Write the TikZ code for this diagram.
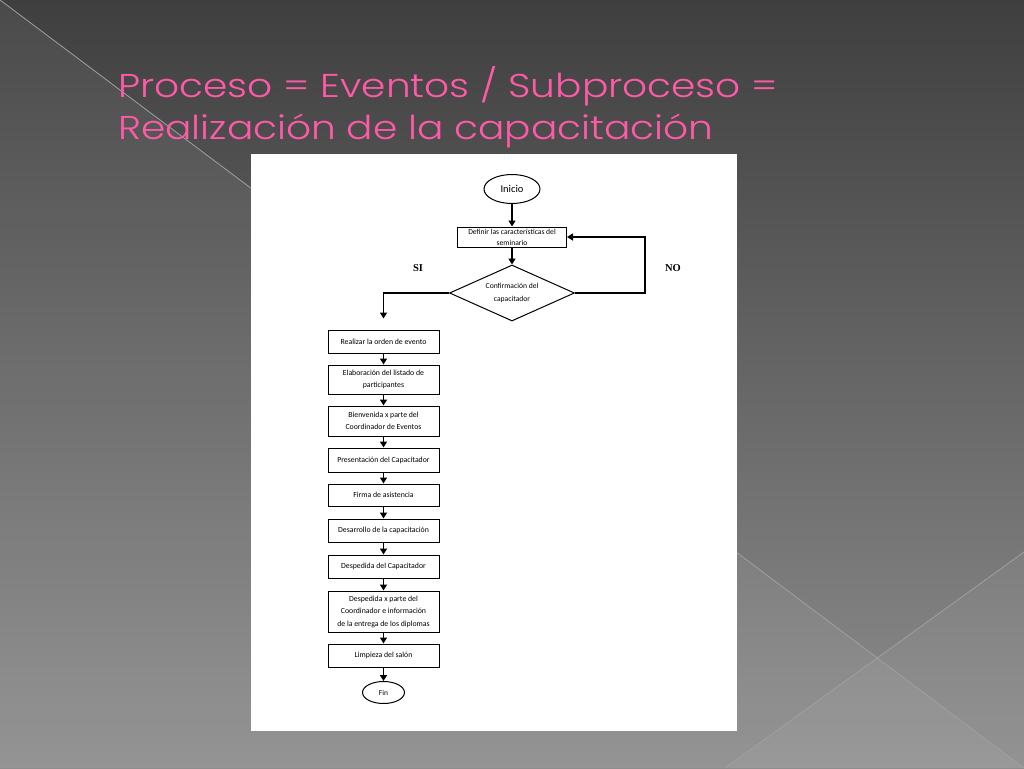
\documentclass[tikz,border=0pt]{standalone}
\usepackage{fontspec}
\setmainfont{Carlito}
\newfontfamily\titlefont{Poppins Light}[FakeStretch=1.185]
\newfontfamily\labelfont{Liberation Serif}
\usetikzlibrary{shapes.geometric,arrows.meta}
\definecolor{bgtop}{HTML}{3F3F3F}
\definecolor{bgbottom}{HTML}{8E8E8E}
\definecolor{bgline}{HTML}{A0A0A0}
\definecolor{titlepink}{HTML}{FF5AA8}
\begin{document}
\begin{tikzpicture}[x=1pt,y=-1pt]

    \tikzset{
      stepbox/.style={
        draw,
        line width=1pt,
        minimum width=111pt,
        inner sep=1pt,
        align=center,
        font=\fontsize{7.8}{12.5}\selectfont,
      },
      startend/.style={draw, ellipse, line width=1pt, inner sep=0pt},
      decision/.style={draw, diamond, line width=1pt, inner sep=0pt,
        minimum width=125pt, minimum height=56pt},
      flow/.style={line width=1.8pt, -{Triangle[length=6pt,width=7pt]}},
      answer/.style={font=\labelfont\bfseries\fontsize{10.5}{12}\selectfont},
    }
    \useasboundingbox (0,0) rectangle (1024,768);
    % slide background
    \shade[top color=bgtop, bottom color=bgbottom] (0,0) rectangle (1024,768);
    \fill[white, opacity=0.06] (0,0) -- (1024,768) -- (0,768) -- cycle;
    \fill[white, opacity=0.05] (1024,552) -- (725,768) -- (1024,768) -- cycle;
    \draw[bgline, line width=0.8pt] (0,0) -- (1024,768);
    \draw[bgline, line width=0.8pt] (1024,552) -- (725,768);

    \node[anchor=base west, inner sep=0pt, text=titlepink, font=\titlefont\fontsize{33}{40}\selectfont] (titleA) at (118,97) {Proceso = Eventos / Subproceso =};
    \node[anchor=base west, inner sep=0pt, text=titlepink, font=\titlefont\fontsize{33}{40}\selectfont] (titleB) at (118,139) {Realización de la capacitación};

    \fill[white] (251,154) rectangle (737,731);

    \node[startend, minimum width=56pt, minimum height=29pt, font=\fontsize{10.5}{12}\selectfont] (inicio) at (512,189) {Inicio};
    \node[stepbox, minimum width=109pt, minimum height=20pt, font=\fontsize{7.6}{11}\selectfont] (definir) at (512,237) {Definir las características del\\seminario};
    \node[decision, label={[align=center, font=\fontsize{7.6}{12.5}\selectfont]center:Confirmación del\\capacitador}] (confirma) at (512,293) {};
    \node[answer] (si) at (418,268) {SI};
    \node[answer] (no) at (673,268) {NO};

    \node[stepbox, minimum height=23pt] (orden) at (383.5,341.5) {Realizar la orden de evento};
    \node[stepbox, minimum height=29pt] (listado) at (383.5,379.5) {Elaboración del listado de\\participantes};
    \node[stepbox, minimum height=30pt] (bienvenida) at (383.5,421) {Bienvenida x parte del\\Coordinador de Eventos};
    \node[stepbox, minimum height=24pt] (presenta) at (383.5,460) {Presentación del Capacitador};
    \node[stepbox, minimum height=22pt] (firma) at (383.5,495) {Firma de asistencia};
    \node[stepbox, minimum height=23pt] (desarrollo) at (383.5,530.5) {Desarrollo de la capacitación};
    \node[stepbox, minimum height=23pt] (despedida) at (383.5,566.5) {Despedida del Capacitador};
    \node[stepbox, minimum height=41pt] (diplomas) at (383.5,611.5) {Despedida x parte del\\Coordinador e información\\de la entrega de los diplomas};
    \node[stepbox, minimum height=23pt] (limpieza) at (383.5,655.5) {Limpieza del salón};
    \node[startend, minimum width=42pt, minimum height=22pt, font=\fontsize{7.5}{9}\selectfont] (fin) at (383.5,692.5) {Fin};

    \draw[flow] (inicio) -- (definir);
    \draw[flow] (definir) -- (confirma);
    \draw[flow] (confirma.east) -- ++(70,0) |- (definir.east);
    \draw[flow, shorten >=11pt] (confirma.west) -| (orden.north);
    \foreach \from/\to in {orden/listado, listado/bienvenida, bienvenida/presenta, presenta/firma,
        firma/desarrollo, desarrollo/despedida, despedida/diplomas, diplomas/limpieza, limpieza/fin}
      \draw[flow] (\from) -- (\to);

\end{tikzpicture}
\end{document}
